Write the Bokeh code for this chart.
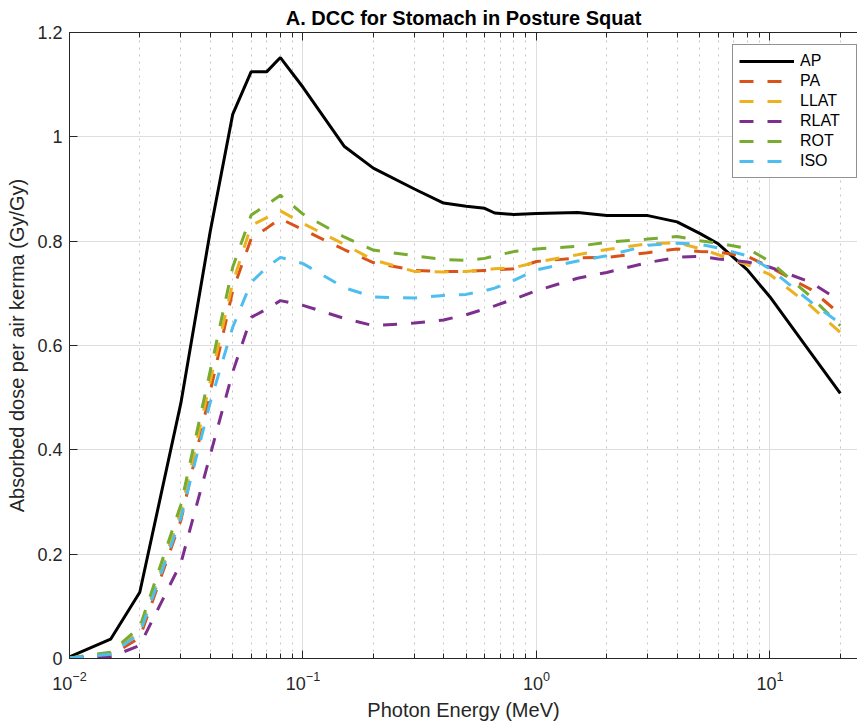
from bokeh.plotting import figure
from bokeh.models import (Range1d, LogAxis, Legend, LegendItem, FixedTicker,
                          CustomJSTickFormatter)
from bokeh.embed import file_html
from bokeh.resources import INLINE

# ---------------- data ----------------
energy = [0.01, 0.015, 0.02, 0.03, 0.04, 0.05, 0.06, 0.07, 0.08, 0.1, 0.15, 0.2,
          0.3, 0.4, 0.5, 0.6, 0.662, 0.8, 1, 1.5, 2, 3, 4, 5, 6, 8, 10, 15, 20]

ap = [0.003, 0.037, 0.127, 0.49, 0.817, 1.043, 1.125, 1.125, 1.152, 1.095, 0.982, 0.94,
      0.9, 0.873, 0.867, 0.863, 0.854, 0.851, 0.853, 0.855, 0.849, 0.849, 0.837, 0.815,
      0.795, 0.745, 0.693, 0.585, 0.508]
pa = [0.001, 0.006, 0.04, 0.265, 0.51, 0.705, 0.805, 0.825, 0.843, 0.822, 0.784, 0.759,
      0.744, 0.742, 0.742, 0.744, 0.745, 0.747, 0.761, 0.768, 0.769, 0.778, 0.785, 0.78,
      0.779, 0.771, 0.75, 0.707, 0.66]
llat = [0.001, 0.009, 0.053, 0.28, 0.53, 0.72, 0.83, 0.845, 0.858, 0.834, 0.794, 0.764,
        0.742, 0.741, 0.742, 0.745, 0.747, 0.749, 0.76, 0.774, 0.784, 0.795, 0.797, 0.786,
        0.774, 0.755, 0.736, 0.675, 0.625]
rlat = [0.001, 0.003, 0.025, 0.183, 0.389, 0.549, 0.654, 0.67, 0.686, 0.677, 0.652, 0.638,
        0.643, 0.649, 0.659, 0.67, 0.676, 0.689, 0.705, 0.729, 0.74, 0.759, 0.769, 0.771,
        0.766, 0.76, 0.75, 0.721, 0.685]
rot = [0.001, 0.012, 0.06, 0.295, 0.55, 0.75, 0.85, 0.87, 0.888, 0.852, 0.808, 0.783,
       0.772, 0.765, 0.763, 0.767, 0.772, 0.78, 0.785, 0.79, 0.798, 0.804, 0.809, 0.801,
       0.796, 0.786, 0.761, 0.693, 0.638]
iso = [0.001, 0.008, 0.048, 0.27, 0.49, 0.635, 0.721, 0.75, 0.769, 0.757, 0.711, 0.693,
       0.691, 0.696, 0.698, 0.705, 0.71, 0.725, 0.745, 0.762, 0.772, 0.792, 0.796, 0.794,
       0.787, 0.772, 0.747, 0.683, 0.642]

series_names = ["AP", "PA", "LLAT", "RLAT", "ROT", "ISO"]
series_values = [ap, pa, llat, rlat, rot, iso]
series_colors = ["#000000", "#D95319", "#EDB120", "#7E2F8E", "#77AC30", "#4DBEEE"]

x_major = [0.01, 0.1, 1, 10]
x_minor = [m * d for d in [0.01, 0.1, 1, 10] for m in range(2, 10)]
y_ticks = [0, 0.2, 0.4, 0.6, 0.8, 1.0, 1.2]
y_labels = ["0", "0.2", "0.4", "0.6", "0.8", "1", "1.2"]

FONT = "Liberation Sans"
TXT = "#262626"

# ---------------- figure ----------------
p = figure(width=857, height=725, x_axis_type="log",
           x_range=Range1d(0.01, 23.7), y_range=Range1d(0, 1.2),
           output_backend="svg", toolbar_location=None,
           min_border_left=69, min_border_right=0, min_border_top=32, min_border_bottom=67)
p.outline_line_color = None
p.background_fill_color = "white"

p.title.text = "A. DCC for Stomach in Posture Squat"
p.title.text_font = FONT
p.title.text_font_size = "20px"
p.title.text_font_style = "bold"
p.title.text_color = "#000000"
p.title.align = "center"
p.title.standoff = 7
p.title.offset = 0

xt = FixedTicker(ticks=x_major, minor_ticks=x_minor)
ax = p.xaxis[0]
ax.ticker = xt
ax.axis_label = "Photon Energy (MeV)"
ax.axis_label_text_font = FONT
ax.axis_label_text_font_size = "20px"
ax.axis_label_text_font_style = "normal"
ax.axis_label_text_color = TXT
ax.axis_label_standoff = 6
ax.major_label_text_font = FONT
ax.major_label_text_font_size = "18px"
ax.major_label_text_color = TXT
ax.major_label_standoff = 12
ax.axis_line_color = TXT
ax.major_tick_in = 8
ax.major_tick_out = 0
ax.minor_tick_in = 5
ax.minor_tick_out = 0
ax.major_tick_line_color = TXT
ax.minor_tick_line_color = TXT

ay = p.yaxis[0]
ay.ticker = FixedTicker(ticks=y_ticks)
ay.major_label_overrides = {t: l for t, l in zip(y_ticks, y_labels)}
ay.axis_label = "Absorbed dose per air kerma (Gy/Gy)"
ay.axis_label_text_font = FONT
ay.axis_label_text_font_size = "20px"
ay.axis_label_text_font_style = "normal"
ay.axis_label_text_color = TXT
ay.axis_label_standoff = 6
ay.major_label_text_font = FONT
ay.major_label_text_font_size = "18px"
ay.major_label_text_color = TXT
ay.major_label_standoff = 7
ay.axis_line_color = TXT
ay.major_tick_in = 8
ay.major_tick_out = 0
ay.major_tick_line_color = TXT
ay.minor_tick_line_color = None

top = LogAxis(ticker=xt, formatter=CustomJSTickFormatter(code="return ''"),
              major_tick_in=8, major_tick_out=0, minor_tick_in=5, minor_tick_out=0,
              major_label_standoff=0, major_label_text_font_size="1px",
              axis_line_color=TXT, major_tick_line_color=TXT, minor_tick_line_color=TXT)
p.add_layout(top, "above")

p.xgrid.ticker = xt
p.xgrid.grid_line_color = "#dedede"
p.xgrid.minor_grid_line_color = "#c4c4c4"
p.xgrid.minor_grid_line_dash = "2 5"
p.ygrid.ticker = FixedTicker(ticks=y_ticks)
p.ygrid.grid_line_color = "#dedede"

items = []
for name, vals, col in zip(series_names, series_values, series_colors):
    if name == "AP":
        r = p.line(energy, vals, line_color=col, line_width=3)
    else:
        r = p.line(energy, vals, line_color=col, line_width=3, line_dash="14 14")
    items.append(LegendItem(label=name, renderers=[r]))

legend = Legend(items=items, location=(663, 480), orientation="vertical",
                border_line_color=TXT, border_line_width=1, background_fill_color="white",
                background_fill_alpha=1.0, padding=6, spacing=0, margin=0,
                glyph_width=55, glyph_height=20, label_standoff=6, label_width=50,
                label_height=20, label_text_font=FONT, label_text_font_size="16px",
                label_text_color="#000000")
p.add_layout(legend, "center")

open("out.html", "w").write(file_html(p, INLINE))
